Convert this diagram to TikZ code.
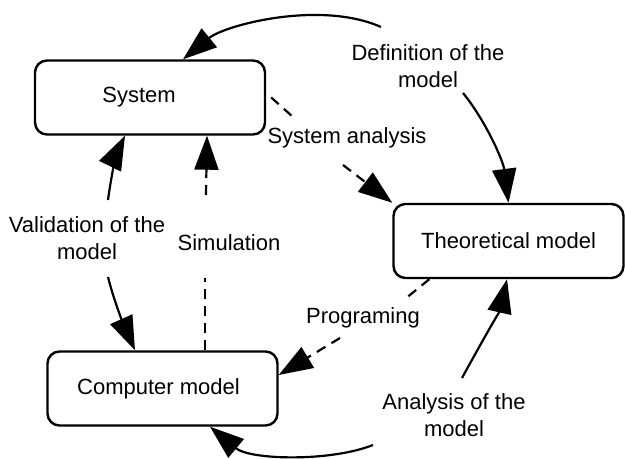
\documentclass[tikz,border=0pt]{standalone}
\usepackage{fontspec}
\setmainfont{Liberation Sans}
\usetikzlibrary{arrows.meta,calc}
\begin{document}
\begin{tikzpicture}[x=0.5pt,y=-0.5pt,
  txt/.style={font=\fontsize{11}{13.5}\selectfont},
  box/.style={txt,draw,line width=1.2pt,rounded corners=6pt,minimum width=115pt,minimum height=37pt,inner sep=0pt},
  lbl/.style={txt,align=center,inner sep=0pt},
  conn/.style={line width=1.1pt,-{Triangle[length=17pt,width=12pt]}},
  dsh/.style={line width=1.1pt,dash pattern=on 5pt off 3.5pt}]
\useasboundingbox (0,0) rectangle (625,459);
% boxes
\node[box] (sys) at (150,97.5) {\hspace*{-11pt}System};
\node[box] (theo) at (508.5,241) {Theoretical model};
\node[box] (comp) at (162.5,388.5) {\hspace*{-4pt}Computer model};
% labels
\node[lbl] (def) at (428,66) {Definition of the\\model};
\node[lbl] (sa) at (347,138) {System analysis};
\node[lbl] (val) at (87,238) {Validation of the\\model};
\node[lbl] (sim) at (229,243) {Simulation};
\node[lbl] (prog) at (363,318) {Programing};
\node[lbl] (ana) at (454,415) {Analysis of the\\model};
% free ends
\coordinate (d1) at (381,27);
\coordinate (d2) at (463,93);
\coordinate (sa1) at (293,117);
\coordinate (sa2) at (343,165);
\coordinate (v1) at (108,200);
\coordinate (v2) at (108,277);
\coordinate (s1) at (205,278);
\coordinate (s2) at (206,195);
\coordinate (p1) at (405,299);
\coordinate (p2) at (340,338);
\coordinate (a1) at (373,445);
\coordinate (a2) at (462,378);
% definition of the model
\draw[conn] (d1) .. controls (320,0) and (225,25) .. ($(sys.north)+(33,0)$);
\draw[conn] (d2) .. controls (485,120) and (503,160) .. (theo.north);
% system analysis
\draw[dsh] ($(sys.east)+(5,0)$) -- (sa1);
\draw[dsh,conn] (sa2) -- (theo.north west);
% validation
\draw[conn] (v1) .. controls (112,170) and (118,150) .. ($(sys.south)+(-25,0)$);
\draw[conn] (v2) .. controls (115,305) and (126,330) .. ($(comp.north)+(-27.5,0)$);
% simulation
\draw[dsh] ($(comp.north)+(42.5,0)$) -- (s1);
\draw[dsh,conn] (s2) -- ($(sys.south)+(57,0)$);
% programing
\draw[dsh] ($(theo.south west)+(37,0)$) -- (p1);
\draw[dsh,conn] (p2) -- ($(comp.east)+(0,-13.5)$);
% analysis
\draw[conn] (a1) .. controls (330,462) and (250,460) .. ($(comp.south)+(47.5,0)$);
\draw[conn] (a2) .. controls (480,345) and (500,310) .. ($(theo.south)+(-1.5,0)$);
\end{tikzpicture}
\end{document}
